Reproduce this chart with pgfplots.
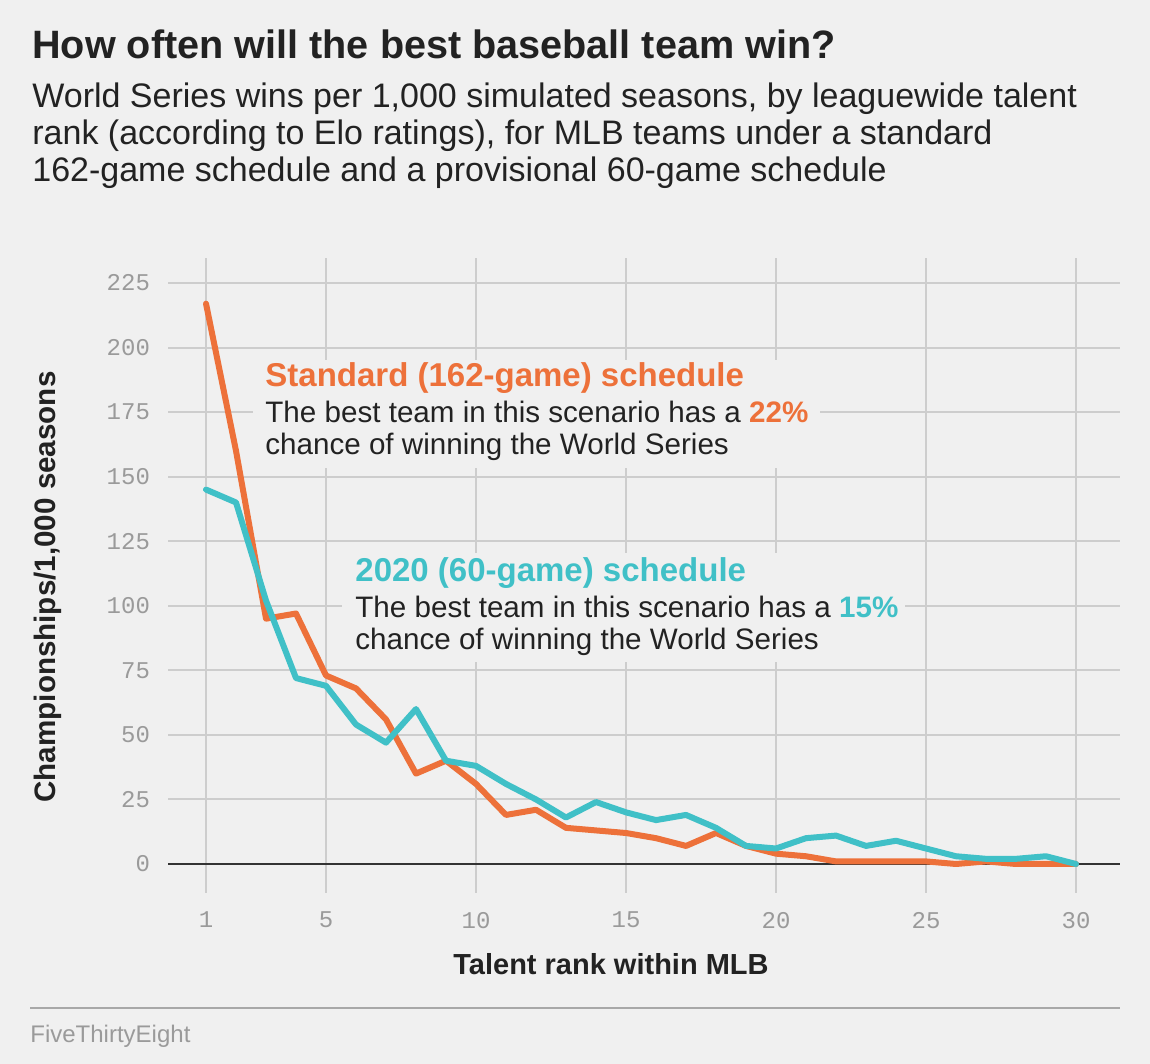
\documentclass[border=0pt]{standalone}
\usepackage{pgfplots}
\pgfplotsset{compat=1.18}
\usepackage{fontspec}
\setmainfont{Liberation Sans}
\newfontfamily\monofont{Liberation Mono}
\definecolor{bg}{HTML}{F0F0F0}
\definecolor{orng}{HTML}{ED713A}
\definecolor{teal}{HTML}{40C0C7}
\definecolor{txt}{HTML}{222222}
\definecolor{gridgray}{HTML}{CDCDCD}
\definecolor{tickgray}{HTML}{9A9A9A}
\definecolor{zerocol}{HTML}{333333}
\definecolor{rulegray}{HTML}{A8A8A8}
\begin{document}
\begin{tikzpicture}[x=0.5pt,y=0.5pt]
\fill[bg] (0,0) rectangle (1150,1064);
\begin{axis}[
  at={(84pt,85.5pt)}, anchor=south west,
  scale only axis, width=476pt, height=317.5pt,
  xmin=-0.267, xmax=31.467, ymin=-11.23, ymax=234.68,
  axis line style={draw=none},
  major tick length=0pt,
  grid=major,
  grid style={gridgray, line width=1pt},
  xtick={1,5,10,15,20,25,30},
  ytick={0,25,...,225},
  /pgf/number format/assume math mode=true,
  tick label style={font=\monofont\fontsize{12}{12}\selectfont, text=tickgray},
  xticklabel style={yshift=-6pt},
  yticklabel style={xshift=-5.5pt},
  clip=false,
]
\fill[bg] (axis cs:2.567,153.4) rectangle (axis cs:21.47,195.2);
\fill[bg] (axis cs:5.533,78.2) rectangle (axis cs:24.3,120.4);
\draw[zerocol, line width=1.2pt] (axis cs:-0.267,0) -- (axis cs:31.467,0);
\addplot[orng, line width=3pt, line join=round, line cap=round] coordinates {
(1,217) (2,160) (3,95) (4,97) (5,73) (6,68) (7,56) (8,35) (9,40) (10,31)
(11,19) (12,21) (13,14) (14,13) (15,12) (16,10) (17,7) (18,12) (19,7) (20,4)
(21,3) (22,1) (23,1) (24,1) (25,1) (26,0) (27,1) (28,0) (29,0) (30,0)};
\addplot[teal, line width=3pt, line join=round, line cap=round] coordinates {
(1,145) (2,140) (3,102) (4,72) (5,69) (6,54) (7,47) (8,60) (9,40) (10,38)
(11,31) (12,25) (13,18) (14,24) (15,20) (16,17) (17,19) (18,14) (19,7) (20,6)
(21,10) (22,11) (23,7) (24,9) (25,6) (26,3) (27,2) (28,2) (29,3) (30,0)};
\end{axis}
% titles
\node[anchor=base west, inner sep=0, text=txt, font=\bfseries\fontsize{19.8}{22}\selectfont] at (32,1005) {How often will the best baseball team win?};
\node[anchor=base west, inner sep=0, text=txt, font=\fontsize{17}{19}\selectfont] at (32,956) {World Series wins per 1,000 simulated seasons, by leaguewide talent};
\node[anchor=base west, inner sep=0, text=txt, font=\fontsize{17}{19}\selectfont] at (32,919) {rank (according to Elo ratings), for MLB teams under a standard};
\node[anchor=base west, inner sep=0, text=txt, font=\fontsize{17}{19}\selectfont] at (32,882) {162-game schedule and a provisional 60-game schedule};
% annotations
\node[anchor=base west, inner sep=0, text=orng, font=\bfseries\fontsize{16.5}{18}\selectfont] at (265,677) {Standard (162-game) schedule};
\node[anchor=base west, inner sep=0, text=txt, font=\fontsize{14.8}{17}\selectfont] at (265,641) {The best team in this scenario has a \textcolor{orng}{\bfseries 22\%}};
\node[anchor=base west, inner sep=0, text=txt, font=\fontsize{14.8}{17}\selectfont] at (265,609) {chance of winning the World Series};
\node[anchor=base west, inner sep=0, text=teal, font=\bfseries\fontsize{16.5}{18}\selectfont] at (355,482) {2020 (60-game) schedule};
\node[anchor=base west, inner sep=0, text=txt, font=\fontsize{14.8}{17}\selectfont] at (355,446) {The best team in this scenario has a \textcolor{teal}{\bfseries 15\%}};
\node[anchor=base west, inner sep=0, text=txt, font=\fontsize{14.8}{17}\selectfont] at (355,414) {chance of winning the World Series};
% axis labels
\node[anchor=base, inner sep=0, text=txt, font=\bfseries\fontsize{14.5}{16}\selectfont] at (611,89) {Talent rank within MLB};
\node[anchor=center, inner sep=0, rotate=90, text=txt, font=\bfseries\fontsize{14.8}{16}\selectfont] at (48,477) {Championships/1,000 seasons};
% footer
\draw[rulegray, line width=1pt] (30,56) -- (1120,56);
\node[anchor=base west, inner sep=0, text=tickgray, font=\fontsize{12}{14}\selectfont] at (30,21) {FiveThirtyEight};
\end{tikzpicture}
\end{document}
